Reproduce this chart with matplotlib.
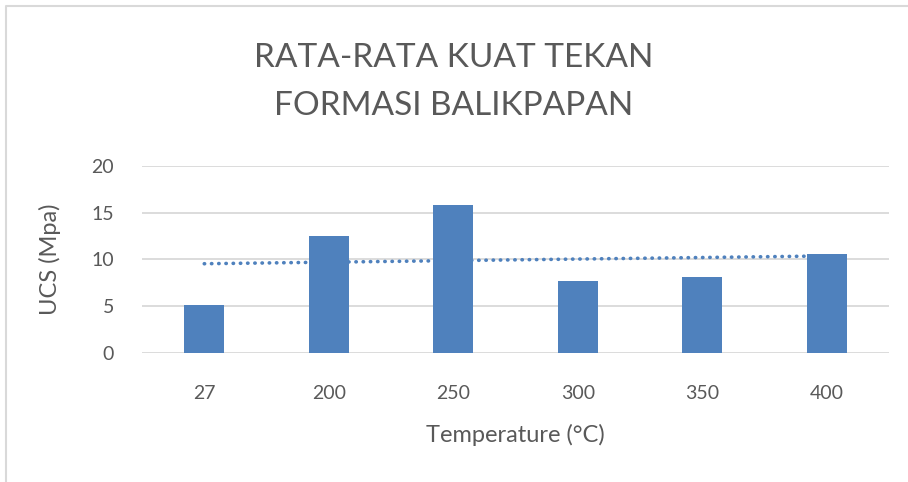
import matplotlib.pyplot as plt
import numpy as np
from matplotlib.lines import Line2D

# Data
temperatures = ["27", "200", "250", "300", "350", "400"]
ucs_values = [5.1, 12.5, 15.8, 7.65, 8.08, 10.55]
y_ticks = [0, 5, 10, 15, 20]

bar_color = "#4F81BD"
text_color = "#595959"
grid_color = "#D9D9D9"

plt.rcParams["font.family"] = ["Lato", "DejaVu Sans"]

figure = plt.figure(figsize=(9.08, 4.82), dpi=100)
axis = figure.add_axes([0.1564, 0.2683, 0.8227, 0.3873])

positions = np.arange(len(temperatures))
axis.bar(positions, ucs_values, width=0.32, color=bar_color, zorder=3)

# Linear trendline (Excel style, round dots)
slope, intercept = np.polyfit(positions, ucs_values, 1)
trend = slope * positions + intercept
axis.plot(positions, trend, linestyle=(0, (0.1, 1.9)), linewidth=2.6,
          dash_capstyle="round", color=bar_color, zorder=4)

axis.set_xlim(-0.5, len(temperatures) - 0.5)
axis.set_ylim(0, 20)
axis.set_yticks(y_ticks)
axis.set_xticks(positions)
axis.set_xticklabels(temperatures)

axis.grid(axis="y", color=grid_color, linewidth=1.3, zorder=0)
axis.tick_params(axis="both", length=0, labelsize=14, labelcolor=text_color)
axis.tick_params(axis="x", pad=23)
axis.tick_params(axis="y", pad=20)
for spine in axis.spines.values():
    spine.set_visible(False)

axis.set_xlabel("Temperature (°C)", fontsize=17, color=text_color, labelpad=16)
axis.set_ylabel("UCS (Mpa)", fontsize=17, color=text_color, labelpad=22)

figure.text(0.5, 0.880, "RATA-RATA KUAT TEKAN", ha="center", va="center",
            fontsize=24, color=text_color)
figure.text(0.5, 0.780, "FORMASI BALIKPAPAN", ha="center", va="center",
            fontsize=24, color=text_color)

# Chart frame border visible on the left and top edges only
figure.lines.append(Line2D([0.0065, 0.0065, 1.0], [0.0, 0.988, 0.988],
                           transform=figure.transFigure,
                           color="#D9D9D9", linewidth=1.5))

figure.savefig("out.png", dpi=100)
plt.close(figure)
